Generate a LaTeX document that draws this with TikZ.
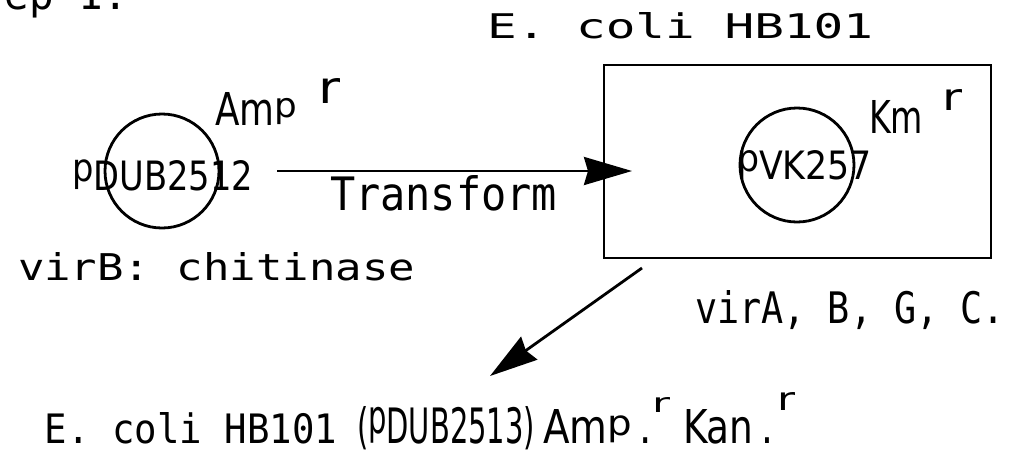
\documentclass[tikz,border=0pt]{standalone}
\usepackage{fontspec}
\usepackage{graphicx}
\setmainfont{DejaVu Sans}
\newfontfamily\monof{DejaVu Sans Mono}
\newfontfamily\propf{DejaVu Sans}
\usetikzlibrary{arrows.meta}
\newcommand{\fitbox}[3]{\resizebox{#1pt}{#2pt}{#3}}
\newcommand{\pcap}{\raisebox{0.2em}{\scalebox{1}[0.96]{p}}}
\newcommand{\plow}{\raisebox{0.157em}{\scalebox{1}[0.755]{p}}}
\begin{document}
\begin{tikzpicture}[x=1pt,y=-1pt,
  txt/.style={inner sep=0pt, outer sep=0pt, anchor=base west},
  plasmid/.style={circle, draw, line width=2.8pt, minimum size=114pt, inner sep=0pt},
  arr/.style={line width=2.8pt, -{Stealth[length=48pt,width=28pt,inset=4pt]}}]
\useasboundingbox (0,0) rectangle (1012,453);
\clip (0,0) rectangle (1012,453);

% cut-off heading
\node[txt] (step) at (5,9) {\fitbox{123}{30}{\monof ep 1.}};

% host cell
\node[txt] (host) at (487,38) {\fitbox{386}{26}{\monof E. coli HB101}};
\node[draw, line width=2.8pt, minimum width=387pt, minimum height=193pt, inner sep=0pt] (cell) at (797.5,161.5) {};

% left plasmid
\node[plasmid] (plasL) at (162,171) {};
\node[txt] (pdub) at (72,190) {\fitbox{181}{30}{\propf \pcap DUB2512}};
\node[txt] (amp) at (215,125) {\fitbox{82}{33}{\propf Am\plow}};
\node[txt] (ampr) at (318,103) {\fitbox{22}{25}{\propf r}};
\node[txt] (virb) at (18,280) {\fitbox{397}{28}{\monof virB: chitinase}};

% right plasmid
\node[plasmid] (plasR) at (797,165) {};
\node[txt] (pvk) at (737,179) {\fitbox{135}{29}{\propf \pcap VK257}};
\node[txt] (km) at (869,133) {\fitbox{54}{33}{\propf Km}};
\node[txt] (kmr) at (942,110) {\fitbox{20}{21}{\propf r}};
\node[txt] (vira) at (695,323) {\fitbox{310}{33}{\monof virA, B, G, C.}};

% transform arrow
\coordinate (a1s) at (277,171);
\coordinate (a1e) at (632,171);
\draw[arr] (a1s) -- (a1e);
\node[txt] (trans) at (330,210) {\fitbox{227}{35}{\monof Transform}};

% result arrow
\coordinate (a2s) at (642,268);
\coordinate (a2e) at (490,376);
\draw[arr] (a2s) -- (a2e);

% result
\node[txt] (res1) at (45,443) {\fitbox{292}{31}{\monof E. coli HB101}};
\node[txt] (res2) at (357,443) {\fitbox{178}{37}{\propf (\pcap DUB2513)}};
\node[txt] (res3) at (543,443) {\fitbox{109}{34}{\propf Am\plow\kern0.2em.}};
\node[txt] (res3r) at (652,412) {\fitbox{18}{15}{\propf r}};
\node[txt] (res4) at (683,443) {\fitbox{90}{34}{\propf Kan\kern0.2em.}};
\node[txt] (res4r) at (777,410) {\fitbox{18}{18}{\propf r}};
\end{tikzpicture}
\end{document}
